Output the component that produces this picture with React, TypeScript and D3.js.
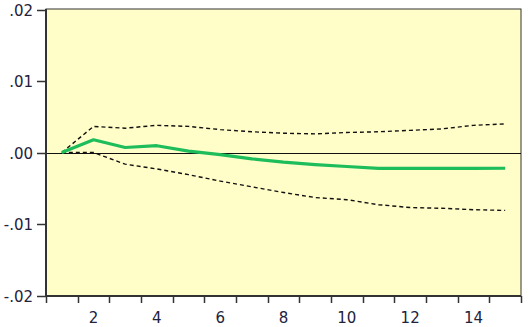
import React, { useRef, useEffect } from "react";
import * as d3 from "d3";

const periods = [1, 2, 3, 4, 5, 6, 7, 8, 9, 10, 11, 12, 13, 14, 15];
const response = [0, 0.00178, 0.0007, 0.00095, 0.0002, -0.0003, -0.00088, -0.00135, -0.0017, -0.00196, -0.00222, -0.00222, -0.00222, -0.00222, -0.0022];
const upperBand = [0, 0.00365, 0.0034, 0.0038, 0.00365, 0.0032, 0.0029, 0.0027, 0.0026, 0.0028, 0.0029, 0.0031, 0.0033, 0.0038, 0.004];
const lowerBand = [0, 0, -0.00163, -0.0023, -0.0031, -0.004, -0.0048, -0.0056, -0.0063, -0.0066, -0.0073, -0.0077, -0.0078, -0.008, -0.0081];
const yTicks = [0.02, 0.01, 0, -0.01, -0.02];
const yTickLabels = [".02", ".01", ".00", "-.01", "-.02"];
const xTickLabels = [2, 4, 6, 8, 10, 12, 14];

const CHART_CONFIG = {
  width: 529,
  height: 327,
  plot: { left: 46, right: 521, top: 9, bottom: 296 },
  background: "#FFFDC8",
  textColor: "#22223c",
  fontFamily: "'DejaVu Sans', Verdana, sans-serif",
  fontSize: 15,
  lineColor: "#1dbd5c",
};

const App = () => {
  const ref = useRef<SVGSVGElement | null>(null);

  useEffect(() => {
    const svgEl = ref.current;
    if (!svgEl) return;
    const svg = d3.select(svgEl);
    svg.selectAll("*").remove();

    const { plot } = CHART_CONFIG;
    const x = d3.scaleLinear().domain([0.5, 15.5]).range([plot.left, plot.right]);
    const y = d3.scaleLinear().domain([-0.02, 0.02]).range([plot.bottom - 0.5, plot.top + 0.5]);

    // plot background
    svg
      .append("rect")
      .attr("x", plot.left)
      .attr("y", plot.top)
      .attr("width", plot.right - plot.left)
      .attr("height", plot.bottom - plot.top)
      .attr("fill", CHART_CONFIG.background)
      .attr("stroke", "#333")
      .attr("stroke-width", 1);

    // zero line
    svg
      .append("line")
      .attr("x1", plot.left)
      .attr("x2", plot.right)
      .attr("y1", Math.round(y(0)) + 0.5)
      .attr("y2", Math.round(y(0)) + 0.5)
      .attr("stroke", "#111")
      .attr("stroke-width", 1.2);

    const line = d3
      .line<number>()
      .x((_, i) => x(periods[i]))
      .y((d) => y(d));

    [upperBand, lowerBand].forEach((band) => {
      svg
        .append("path")
        .datum(band)
        .attr("d", line)
        .attr("fill", "none")
        .attr("stroke", "#111")
        .attr("stroke-width", 1.4)
        .attr("stroke-dasharray", "4,3");
    });

    svg
      .append("path")
      .datum(response)
      .attr("d", line)
      .attr("fill", "none")
      .attr("stroke", CHART_CONFIG.lineColor)
      .attr("stroke-width", 3.2)
      .attr("stroke-linejoin", "round");

    // left and bottom axis lines
    svg
      .append("line")
      .attr("x1", plot.left)
      .attr("x2", plot.left)
      .attr("y1", plot.top)
      .attr("y2", plot.bottom + 1)
      .attr("stroke", "#333")
      .attr("stroke-width", 2);
    svg
      .append("line")
      .attr("x1", plot.left)
      .attr("x2", plot.right)
      .attr("y1", plot.bottom)
      .attr("y2", plot.bottom)
      .attr("stroke", "#333")
      .attr("stroke-width", 2);

    // y axis
    const yAxis = svg.append("g");
    yTicks.forEach((v, i) => {
      const yy = Math.round(y(v)) + 0.5;
      yAxis
        .append("line")
        .attr("x1", plot.left - 9)
        .attr("x2", plot.left)
        .attr("y1", yy)
        .attr("y2", yy)
        .attr("stroke", "#333")
        .attr("stroke-width", 1.5);
      yAxis
        .append("text")
        .attr("x", plot.left - 13)
        .attr("y", yy)
        .attr("dy", "0.36em")
        .attr("text-anchor", "end")
        .attr("fill", CHART_CONFIG.textColor)
        .attr("font-family", CHART_CONFIG.fontFamily)
        .attr("font-size", CHART_CONFIG.fontSize)
        .text(yTickLabels[i]);
    });

    // x axis: ticks at period boundaries, labels at period centres
    const xAxis = svg.append("g");
    d3.range(0.5, 16, 1).forEach((b) => {
      const xx = Math.round(x(b)) + 0.5;
      xAxis
        .append("line")
        .attr("x1", xx)
        .attr("x2", xx)
        .attr("y1", plot.bottom)
        .attr("y2", plot.bottom + 7)
        .attr("stroke", "#333")
        .attr("stroke-width", 1.5);
    });
    xTickLabels.forEach((p) => {
      xAxis
        .append("text")
        .attr("x", x(p))
        .attr("y", 323)
        .attr("text-anchor", "middle")
        .attr("fill", CHART_CONFIG.textColor)
        .attr("font-family", CHART_CONFIG.fontFamily)
        .attr("font-size", CHART_CONFIG.fontSize)
        .text(p);
    });
  }, []);

  return (
    <svg
      ref={ref}
      width={CHART_CONFIG.width}
      height={CHART_CONFIG.height}
      style={{ position: "absolute", left: 0, top: 0, background: "#fff" }}
    />
  );
};

export default App;
